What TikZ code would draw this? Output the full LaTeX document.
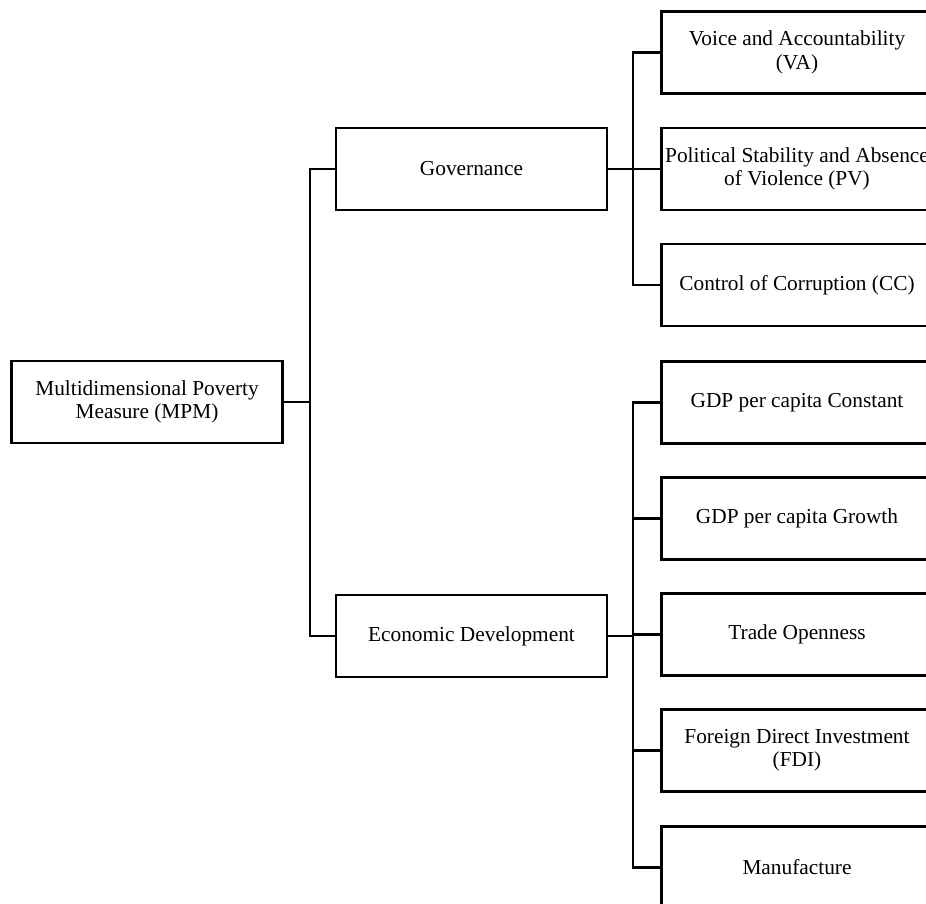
\documentclass[tikz,border=0pt]{standalone}
\usepackage{fontspec}
\setmainfont{Liberation Serif}
\begin{document}
\begin{tikzpicture}[x=0.75pt,y=-0.75pt,
  box/.style={draw=black,line width=1.9pt,minimum width=203.25pt,minimum height=61.5pt,
    inner sep=0pt,align=center,font=\fontsize{16}{17.5}\selectfont},
  link/.style={draw=black,line width=1.9pt}]
\clip (0,0) rectangle (926,904);
% nodes
\node[box] (mpm) at (147,402) {Multidimensional Poverty\\Measure (MPM)};
\node[box] (gov) at (471.5,169) {Governance};
\node[box] (econ) at (471.5,636) {Economic Development};
\node[box] (va) at (797,52.5) {Voice and Accountability\\(VA)};
\node[box] (pv) at (797,169) {Political Stability and Absence\\of Violence (PV)};
\node[box] (cc) at (797,285) {Control of Corruption (CC)};
\node[box] (gdpc) at (797,402.5) {GDP per capita Constant};
\node[box] (gdpg) at (797,518.5) {GDP per capita Growth};
\node[box] (trade) at (797,634.5) {Trade Openness};
\node[box] (fdi) at (797,750.5) {Foreign Direct Investment\\(FDI)};
\node[box] (man) at (797,867.5) {Manufacture};
% junctions
\coordinate (t1) at (310,402);
\coordinate (t2) at (633,169);
\coordinate (t3) at (633,636);
% connectors
\draw[link] (mpm.east) -- (t1);
\draw[link] (gov.west) -| (t1);
\draw[link] (econ.west) -| (t1);
\draw[link] (gov.east) -- (pv.west);
\draw[link] (va.west) -| (t2);
\draw[link] (cc.west) -| (t2);
\draw[link] (econ.east) -- (t3);
\draw[link] (gdpc.west) -| (t3);
\draw[link] (gdpg.west) -| (t3);
\draw[link] (trade.west) -| (t3);
\draw[link] (fdi.west) -| (t3);
\draw[link] (man.west) -| (t3);
\end{tikzpicture}
\end{document}
